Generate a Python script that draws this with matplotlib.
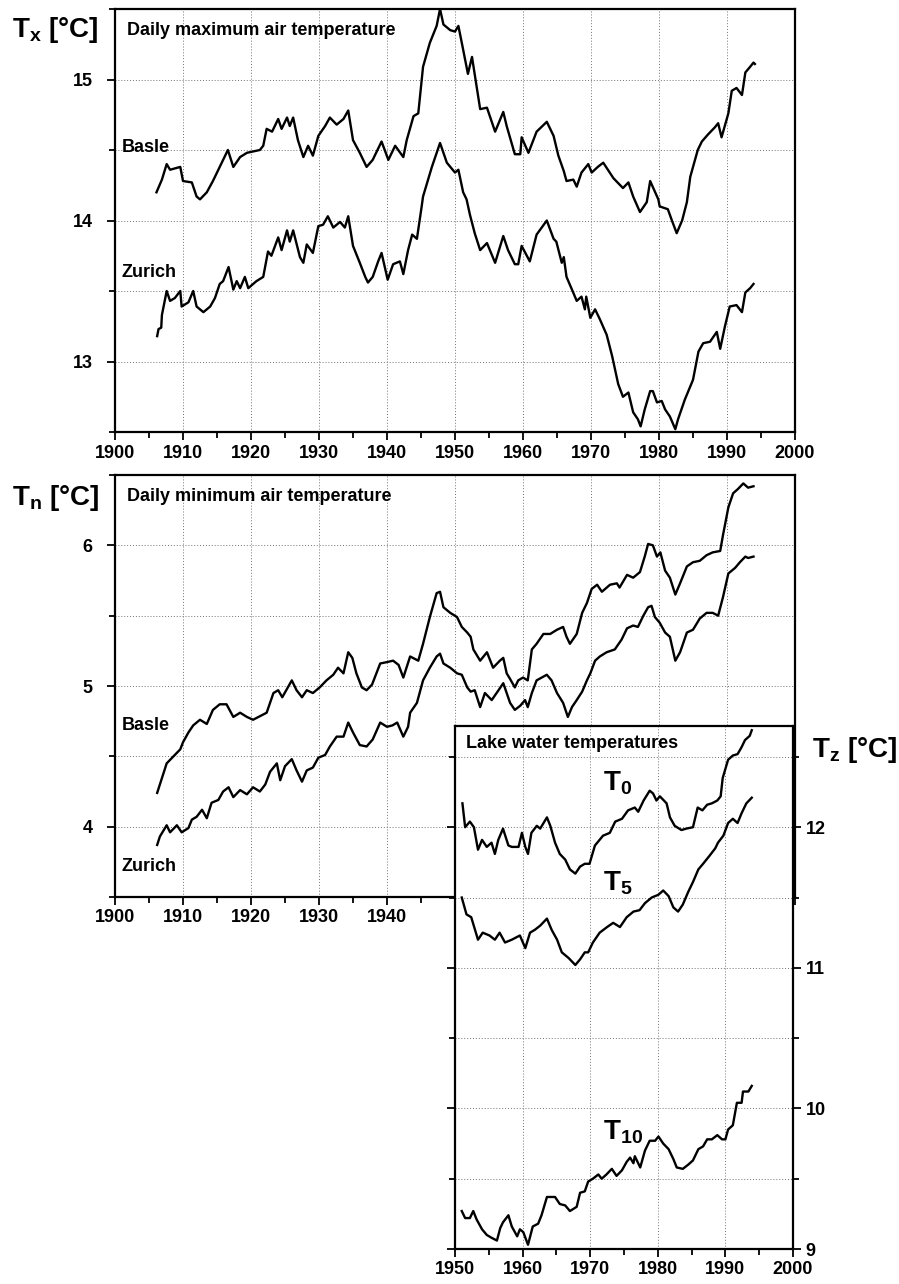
"""
Swiss air and lake water temperature trends (running means), 1906-1994.
"""

import matplotlib
matplotlib.use("Agg")
import matplotlib.pyplot as plt
from matplotlib.ticker import MultipleLocator, FixedLocator

plt.rcParams['font.family'] = ['Liberation Sans', 'DejaVu Sans']
plt.rcParams['font.weight'] = 'bold'
plt.rcParams['mathtext.default'] = 'regular'

# ---- data --------------------------------------------------------------
basle_tx_year = [1906.1, 1906.9, 1907.6, 1908.1, 1909.6, 1910.0, 1911.3, 1912.0, 1912.5, 1913.5,
                 1914.4, 1915.7, 1916.6, 1917.4, 1918.4, 1919.4, 1921.3, 1921.8, 1922.3, 1923.1,
                 1924.0, 1924.5, 1925.3, 1925.7, 1926.2, 1926.9, 1927.7, 1928.4, 1929.1, 1929.9,
                 1930.9, 1931.6, 1932.6, 1933.6, 1934.3, 1935.0, 1936.0, 1937.0, 1937.9, 1939.2,
                 1940.2, 1941.2, 1942.4, 1942.9, 1943.9, 1944.6, 1945.3, 1946.3, 1947.3, 1947.8,
                 1948.3, 1949.3, 1950.0, 1950.5, 1951.0, 1951.9, 1952.5, 1953.7, 1954.7, 1955.9,
                 1957.1, 1957.6, 1958.8, 1959.6, 1959.8, 1960.8, 1962.0, 1963.5, 1964.5, 1965.2,
                 1966.0, 1966.4, 1967.4, 1967.9, 1968.6, 1969.6, 1970.1, 1971.0, 1971.8, 1973.3,
                 1974.7, 1975.5, 1976.2, 1977.2, 1978.2, 1978.7, 1979.9, 1980.1, 1981.3, 1981.9,
                 1982.6, 1983.4, 1984.1, 1984.6, 1985.7, 1986.3, 1987.2, 1988.2, 1988.7, 1989.2,
                 1990.2, 1990.7, 1991.4, 1992.2, 1992.7, 1993.4, 1993.9, 1994.1]
basle_tx = [14.20, 14.29, 14.40, 14.36, 14.38, 14.28, 14.27, 14.17, 14.15, 14.20,
            14.28, 14.41, 14.50, 14.38, 14.45, 14.48, 14.50, 14.53, 14.65, 14.63,
            14.72, 14.65, 14.73, 14.67, 14.73, 14.57, 14.45, 14.53, 14.46, 14.60,
            14.67, 14.73, 14.68, 14.72, 14.78, 14.57, 14.48, 14.38, 14.43, 14.56,
            14.43, 14.53, 14.45, 14.57, 14.74, 14.76, 15.09, 15.26, 15.38, 15.50,
            15.39, 15.35, 15.34, 15.38, 15.26, 15.04, 15.16, 14.79, 14.80, 14.63,
            14.77, 14.67, 14.47, 14.47, 14.59, 14.48, 14.63, 14.70, 14.60, 14.46,
            14.35, 14.28, 14.29, 14.24, 14.34, 14.40, 14.34, 14.38, 14.41, 14.30,
            14.23, 14.27, 14.17, 14.06, 14.13, 14.28, 14.15, 14.10, 14.08, 14.00,
            13.91, 14.00, 14.13, 14.31, 14.50, 14.56, 14.61, 14.66, 14.69, 14.59,
            14.76, 14.92, 14.94, 14.89, 15.05, 15.09, 15.12, 15.11]

zurich_tx_year = [1906.2, 1906.4, 1906.8, 1906.9, 1907.6, 1908.1, 1908.8, 1909.6, 1909.8, 1910.8,
                  1911.5, 1912.0, 1913.0, 1914.0, 1914.7, 1915.4, 1915.9, 1916.7, 1917.4, 1917.9,
                  1918.4, 1919.1, 1919.6, 1920.8, 1921.8, 1922.5, 1923.0, 1924.0, 1924.5, 1925.3,
                  1925.7, 1926.2, 1927.2, 1927.7, 1928.2, 1929.1, 1929.9, 1930.6, 1931.3, 1932.1,
                  1933.1, 1933.8, 1934.3, 1935.0, 1936.0, 1936.8, 1937.2, 1937.9, 1938.7, 1939.2,
                  1940.1, 1940.9, 1941.9, 1942.4, 1943.1, 1943.7, 1944.4, 1945.1, 1945.3, 1946.6,
                  1947.8, 1948.8, 1950.0, 1950.5, 1951.2, 1951.7, 1952.2, 1952.9, 1953.7, 1954.7,
                  1955.9, 1957.1, 1957.8, 1958.8, 1959.3, 1959.8, 1961.0, 1962.0, 1963.5, 1964.5,
                  1964.9, 1965.7, 1966.0, 1966.4, 1967.2, 1967.9, 1968.6, 1969.1, 1969.3, 1969.9,
                  1970.6, 1971.3, 1972.3, 1973.1, 1974.0, 1974.7, 1975.5, 1976.2, 1976.9, 1977.3,
                  1977.9, 1978.7, 1979.1, 1979.7, 1980.4, 1980.9, 1981.6, 1982.4, 1982.8, 1983.8,
                  1985.0, 1985.8, 1986.5, 1987.5, 1988.5, 1989.0, 1989.7, 1990.4, 1991.4, 1992.2,
                  1992.7, 1993.4, 1993.9]
zurich_tx = [13.18, 13.23, 13.24, 13.33, 13.50, 13.43, 13.45, 13.50, 13.39, 13.42,
             13.50, 13.39, 13.35, 13.39, 13.45, 13.55, 13.57, 13.67, 13.51, 13.57,
             13.52, 13.60, 13.52, 13.57, 13.60, 13.78, 13.75, 13.88, 13.79, 13.93,
             13.85, 13.93, 13.74, 13.70, 13.83, 13.77, 13.96, 13.97, 14.03, 13.95,
             13.99, 13.95, 14.03, 13.82, 13.70, 13.60, 13.56, 13.60, 13.71, 13.77,
             13.58, 13.69, 13.71, 13.62, 13.79, 13.90, 13.87, 14.10, 14.17, 14.38,
             14.55, 14.41, 14.34, 14.36, 14.20, 14.15, 14.04, 13.91, 13.79, 13.84,
             13.70, 13.89, 13.79, 13.69, 13.69, 13.82, 13.71, 13.90, 14.00, 13.87,
             13.85, 13.70, 13.74, 13.60, 13.51, 13.43, 13.46, 13.37, 13.46, 13.31,
             13.37, 13.30, 13.19, 13.04, 12.84, 12.75, 12.78, 12.64, 12.59, 12.54,
             12.66, 12.79, 12.79, 12.71, 12.72, 12.66, 12.61, 12.52, 12.59, 12.73,
             12.87, 13.07, 13.13, 13.14, 13.21, 13.09, 13.25, 13.39, 13.40, 13.35,
             13.49, 13.52, 13.55]

basle_tn_year = [1906.2, 1906.6, 1907.6, 1908.6, 1909.6, 1910.0, 1910.8, 1911.5, 1912.5, 1913.5,
                 1914.4, 1915.4, 1916.4, 1917.4, 1918.4, 1919.4, 1920.3, 1922.3, 1923.3, 1924.0,
                 1924.6, 1926.0, 1926.7, 1927.5, 1928.2, 1929.1, 1930.1, 1931.1, 1932.1, 1932.8,
                 1933.6, 1934.3, 1934.9, 1935.5, 1936.3, 1937.0, 1937.8, 1939.0, 1940.0, 1940.9,
                 1941.7, 1942.4, 1943.4, 1944.6, 1945.3, 1946.3, 1947.3, 1947.8, 1948.3, 1949.3,
                 1950.3, 1951.0, 1951.8, 1952.3, 1952.7, 1953.7, 1954.7, 1955.6, 1956.6, 1957.1,
                 1957.6, 1958.1, 1958.8, 1959.3, 1960.0, 1960.7, 1961.3, 1962.0, 1963.0, 1964.0,
                 1965.0, 1965.9, 1966.4, 1966.9, 1967.9, 1968.7, 1969.4, 1970.1, 1970.9, 1971.6,
                 1972.8, 1973.8, 1974.2, 1975.3, 1976.2, 1977.2, 1977.9, 1978.4, 1979.1, 1979.7,
                 1980.2, 1980.9, 1981.6, 1982.4, 1983.1, 1984.1, 1985.0, 1986.0, 1987.0, 1987.9,
                 1989.0, 1989.4, 1990.2, 1990.9, 1991.6, 1992.4, 1993.1, 1993.9]
basle_tn = [4.24, 4.30, 4.45, 4.50, 4.55, 4.60, 4.67, 4.72, 4.76, 4.73,
            4.83, 4.87, 4.87, 4.78, 4.81, 4.78, 4.76, 4.81, 4.95, 4.97,
            4.92, 5.04, 4.97, 4.92, 4.97, 4.95, 4.99, 5.04, 5.08, 5.13,
            5.09, 5.24, 5.20, 5.09, 4.99, 4.97, 5.01, 5.16, 5.17, 5.18,
            5.15, 5.06, 5.21, 5.18, 5.30, 5.49, 5.66, 5.67, 5.56, 5.52,
            5.49, 5.42, 5.38, 5.35, 5.26, 5.18, 5.24, 5.13, 5.18, 5.20,
            5.09, 5.05, 4.99, 5.04, 5.06, 5.04, 5.26, 5.30, 5.37, 5.37,
            5.40, 5.42, 5.35, 5.30, 5.37, 5.52, 5.59, 5.69, 5.72, 5.67,
            5.72, 5.73, 5.70, 5.79, 5.77, 5.81, 5.92, 6.01, 6.00, 5.92,
            5.95, 5.82, 5.77, 5.65, 5.73, 5.85, 5.88, 5.89, 5.93, 5.95,
            5.96, 6.07, 6.27, 6.37, 6.40, 6.44, 6.41, 6.42]

zurich_tn_year = [1906.2, 1906.6, 1907.6, 1908.1, 1909.1, 1909.8, 1910.8, 1911.3, 1912.0, 1912.8,
                  1913.5, 1914.2, 1915.2, 1915.9, 1916.7, 1917.4, 1918.4, 1919.4, 1920.3, 1921.3,
                  1922.1, 1922.8, 1923.8, 1924.3, 1925.0, 1926.0, 1926.7, 1927.5, 1928.2, 1929.1,
                  1929.9, 1930.9, 1931.6, 1932.6, 1933.6, 1934.3, 1935.0, 1936.0, 1937.0, 1937.9,
                  1939.0, 1940.0, 1940.8, 1941.5, 1942.4, 1943.1, 1943.4, 1944.4, 1945.3, 1946.3,
                  1947.3, 1947.8, 1948.3, 1949.3, 1950.3, 1951.0, 1951.8, 1952.3, 1952.9, 1953.7,
                  1954.4, 1955.4, 1956.4, 1957.1, 1957.6, 1958.1, 1958.8, 1959.6, 1960.3, 1960.7,
                  1961.3, 1962.0, 1963.5, 1964.2, 1965.0, 1965.9, 1966.6, 1967.2, 1967.9, 1968.7,
                  1969.4, 1969.9, 1970.6, 1971.3, 1972.3, 1973.5, 1974.5, 1975.3, 1976.2, 1976.9,
                  1977.7, 1978.4, 1978.9, 1979.4, 1980.1, 1980.9, 1981.6, 1982.4, 1983.1, 1984.1,
                  1985.0, 1986.0, 1987.0, 1987.9, 1988.7, 1989.4, 1990.2, 1991.2, 1991.9, 1992.7,
                  1993.1, 1993.9]
zurich_tn = [3.87, 3.93, 4.01, 3.96, 4.01, 3.96, 3.99, 4.05, 4.07, 4.12,
             4.06, 4.17, 4.19, 4.25, 4.28, 4.21, 4.26, 4.23, 4.28, 4.25,
             4.30, 4.39, 4.45, 4.33, 4.43, 4.48, 4.40, 4.32, 4.40, 4.42,
             4.49, 4.51, 4.57, 4.64, 4.64, 4.74, 4.67, 4.58, 4.57, 4.62,
             4.74, 4.71, 4.72, 4.74, 4.64, 4.71, 4.81, 4.88, 5.04, 5.13,
             5.21, 5.23, 5.16, 5.13, 5.09, 5.08, 4.99, 4.96, 4.97, 4.85,
             4.95, 4.90, 4.97, 5.02, 4.95, 4.88, 4.83, 4.86, 4.90, 4.85,
             4.95, 5.04, 5.08, 5.04, 4.95, 4.88, 4.78, 4.85, 4.90, 4.96,
             5.04, 5.09, 5.18, 5.21, 5.24, 5.26, 5.33, 5.41, 5.43, 5.42,
             5.50, 5.56, 5.57, 5.49, 5.45, 5.38, 5.35, 5.18, 5.24, 5.38,
             5.40, 5.48, 5.52, 5.52, 5.50, 5.63, 5.80, 5.84, 5.88, 5.92,
             5.91, 5.92]

t0_year = [1951.1, 1951.5, 1952.2, 1952.8, 1953.4, 1954.0, 1954.7, 1955.4, 1955.9, 1956.4,
           1957.1, 1957.9, 1958.4, 1959.4, 1959.9, 1960.4, 1960.8, 1961.3, 1962.1, 1962.6,
           1963.1, 1963.6, 1964.1, 1964.8, 1965.5, 1966.3, 1967.0, 1967.8, 1968.5, 1969.2,
           1969.9, 1970.7, 1971.9, 1972.9, 1973.7, 1974.7, 1975.6, 1976.6, 1977.1, 1977.9,
           1978.8, 1979.3, 1979.8, 1980.3, 1981.3, 1981.8, 1982.5, 1983.5, 1984.2, 1985.2,
           1985.9, 1986.6, 1987.3, 1988.0, 1988.8, 1989.3, 1989.6, 1990.4, 1991.1, 1991.8,
           1992.4, 1992.9, 1993.6, 1993.9]
t0 = [12.17, 12.00, 12.04, 12.00, 11.84, 11.91, 11.86, 11.89, 11.81, 11.91,
      11.99, 11.87, 11.86, 11.86, 11.96, 11.86, 11.81, 11.96, 12.01, 11.99,
      12.03, 12.07, 12.01, 11.89, 11.81, 11.77, 11.70, 11.67, 11.72, 11.74,
      11.74, 11.87, 11.94, 11.96, 12.04, 12.06, 12.12, 12.14, 12.11, 12.19,
      12.26, 12.24, 12.19, 12.22, 12.17, 12.07, 12.01, 11.98, 11.99, 12.00,
      12.14, 12.12, 12.16, 12.17, 12.19, 12.22, 12.35, 12.48, 12.51, 12.52,
      12.57, 12.62, 12.65, 12.69]

t5_year = [1951.0, 1951.7, 1952.4, 1953.4, 1954.1, 1955.1, 1955.9, 1956.6, 1957.4, 1958.4,
           1959.6, 1960.4, 1961.1, 1961.8, 1962.6, 1963.6, 1964.3, 1965.1, 1965.8, 1966.8,
           1967.8, 1968.5, 1969.2, 1969.7, 1970.4, 1971.4, 1972.5, 1973.4, 1974.4, 1975.4,
           1976.4, 1977.3, 1978.1, 1979.1, 1980.1, 1980.8, 1981.6, 1982.3, 1983.0, 1983.7,
           1984.5, 1985.2, 1986.0, 1986.7, 1987.7, 1988.5, 1988.9, 1989.7, 1990.4, 1991.1,
           1991.8, 1992.4, 1993.1, 1993.9]
t5 = [11.50, 11.38, 11.36, 11.20, 11.25, 11.23, 11.20, 11.25, 11.18, 11.20,
      11.23, 11.14, 11.25, 11.27, 11.30, 11.35, 11.27, 11.20, 11.11, 11.07,
      11.02, 11.06, 11.11, 11.11, 11.18, 11.25, 11.29, 11.32, 11.29, 11.36,
      11.40, 11.41, 11.46, 11.50, 11.52, 11.55, 11.51, 11.43, 11.40, 11.45,
      11.54, 11.61, 11.70, 11.74, 11.80, 11.85, 11.89, 11.94, 12.03, 12.06,
      12.03, 12.10, 12.17, 12.21]

t10_year = [1951.0, 1951.5, 1952.2, 1952.7, 1953.2, 1954.0, 1954.7, 1955.4, 1956.2, 1956.7,
            1957.1, 1957.9, 1958.4, 1959.2, 1959.6, 1960.1, 1960.8, 1961.5, 1962.3, 1962.8,
            1963.6, 1964.8, 1965.5, 1966.3, 1967.0, 1968.0, 1968.5, 1969.2, 1969.7, 1970.4,
            1971.2, 1971.7, 1972.4, 1973.2, 1973.9, 1974.7, 1975.4, 1975.9, 1976.4, 1976.6,
            1977.4, 1978.1, 1978.8, 1979.6, 1980.1, 1980.8, 1981.6, 1982.3, 1982.8, 1983.7,
            1984.5, 1985.2, 1986.0, 1986.7, 1987.3, 1988.0, 1988.8, 1989.5, 1990.0, 1990.4,
            1991.1, 1991.7, 1992.4, 1992.6, 1993.4, 1993.9]
t10 = [9.27, 9.22, 9.22, 9.27, 9.21, 9.14, 9.10, 9.08, 9.06, 9.15,
       9.19, 9.24, 9.16, 9.09, 9.14, 9.12, 9.03, 9.16, 9.18, 9.24,
       9.37, 9.37, 9.32, 9.31, 9.27, 9.30, 9.40, 9.41, 9.48, 9.50,
       9.53, 9.50, 9.53, 9.57, 9.52, 9.56, 9.62, 9.65, 9.61, 9.66,
       9.58, 9.70, 9.77, 9.77, 9.80, 9.75, 9.71, 9.64, 9.58, 9.57,
       9.60, 9.63, 9.71, 9.73, 9.78, 9.78, 9.81, 9.78, 9.78, 9.85,
       9.88, 10.04, 10.04, 10.12, 10.12, 10.16]

# middle panel only shows year labels left of the inset
tn_year_ticks = [1900, 1910, 1920, 1930, 1940]

# ---- figure -------------------------------------------------------------
W, H = 899, 1284
fig = plt.figure(figsize=(W / 100, H / 100), dpi=100)


def px_axes(left, top, right, bottom):
    return fig.add_axes([left / W, 1 - bottom / H, (right - left) / W, (bottom - top) / H])


def style(ax, labelsize=13):
    for s in ax.spines.values():
        s.set_linewidth(1.6)
    ax.tick_params(which='both', direction='out', width=1.3, labelsize=labelsize, pad=3)
    ax.tick_params(which='major', length=6)
    ax.tick_params(which='minor', length=4)
    ax.grid(True, which='major', axis='x', linestyle=(0, (1, 2)), color='0.45', lw=0.7)
    ax.grid(True, which='both', axis='y', linestyle=(0, (1, 2)), color='0.45', lw=0.7)
    for lab in ax.get_xticklabels() + ax.get_yticklabels():
        lab.set_fontweight('bold')


line_kw = dict(color='black', lw=1.7)

# top panel: daily maximum
ax1 = px_axes(115, 9, 795, 432)
ax1.plot(basle_tx_year, basle_tx, **line_kw)
ax1.plot(zurich_tx_year, zurich_tx, **line_kw)
ax1.set_xlim(1900, 2000)
ax1.set_ylim(12.5, 15.5)
ax1.xaxis.set_major_locator(MultipleLocator(10))
ax1.xaxis.set_minor_locator(MultipleLocator(5))
ax1.yaxis.set_major_locator(MultipleLocator(1))
ax1.yaxis.set_minor_locator(MultipleLocator(0.5))
style(ax1)
ax1.tick_params(axis='y', pad=10)
ax1.text(0.018, 0.95, 'Daily maximum air temperature', transform=ax1.transAxes,
         fontsize=13, fontweight='bold', va='center')
ax1.text(1901, 14.52, 'Basle', fontsize=13, fontweight='bold', va='center')
ax1.text(1901, 13.63, 'Zurich', fontsize=13, fontweight='bold', va='center')
fig.text(0.062, 0.977, 'T$_x$ [°C]', fontsize=20, fontweight='bold', ha='center', va='center')

# middle panel: daily minimum
ax2 = px_axes(115, 475, 795, 897)
ax2.plot(basle_tn_year, basle_tn, **line_kw)
ax2.plot(zurich_tn_year, zurich_tn, **line_kw)
ax2.set_xlim(1900, 2000)
ax2.set_ylim(3.5, 6.5)
ax2.xaxis.set_major_locator(MultipleLocator(10))
ax2.xaxis.set_minor_locator(MultipleLocator(5))
ax2.yaxis.set_major_locator(MultipleLocator(1))
ax2.yaxis.set_minor_locator(MultipleLocator(0.5))
style(ax2)
ax2.set_xticks(ax2.get_xticks())
ax2.set_xticklabels([str(int(t)) if int(t) in tn_year_ticks else '' for t in ax2.get_xticks()],
                    fontweight='bold')
ax2.set_xlim(1900, 2000)
ax2.tick_params(axis='y', pad=10)
ax2.text(0.018, 0.948, 'Daily minimum air temperature', transform=ax2.transAxes,
         fontsize=13, fontweight='bold', va='center')
ax2.text(1901, 4.72, 'Basle', fontsize=13, fontweight='bold', va='center')
ax2.text(1901, 3.72, 'Zurich', fontsize=13, fontweight='bold', va='center')
fig.text(0.062, 0.612, 'T$_n$ [°C]', fontsize=20, fontweight='bold', ha='center', va='center')

# inset: lake water temperatures
ax3 = px_axes(455, 726, 793, 1249)
ax3.set_facecolor('white')
ax3.plot(t0_year, t0, **line_kw)
ax3.plot(t5_year, t5, **line_kw)
ax3.plot(t10_year, t10, **line_kw)
ax3.set_xlim(1950, 2000)
ax3.set_ylim(9, 12.72)
ax3.xaxis.set_major_locator(MultipleLocator(10))
ax3.xaxis.set_minor_locator(MultipleLocator(5))
ax3.yaxis.set_major_locator(MultipleLocator(1))
ax3.yaxis.set_minor_locator(MultipleLocator(0.5))
style(ax3)
ax3.tick_params(axis='y', which='both', left=True, right=True, labelleft=False, labelright=True)
ax3.text(0.033, 0.967, 'Lake water temperatures', transform=ax3.transAxes,
         fontsize=13, fontweight='bold', va='center')
ax3.text(1971.9, 12.26, 'T$_0$', fontsize=20, fontweight='bold', va='baseline')
ax3.text(1971.9, 11.55, 'T$_5$', fontsize=20, fontweight='bold', va='baseline')
ax3.text(1971.9, 9.78, 'T$_{10}$', fontsize=20, fontweight='bold', va='baseline')
fig.text(0.903, 0.416, 'T$_z$ [°C]', fontsize=20, fontweight='bold', ha='left', va='center')

fig.savefig('out.png', dpi=100)
